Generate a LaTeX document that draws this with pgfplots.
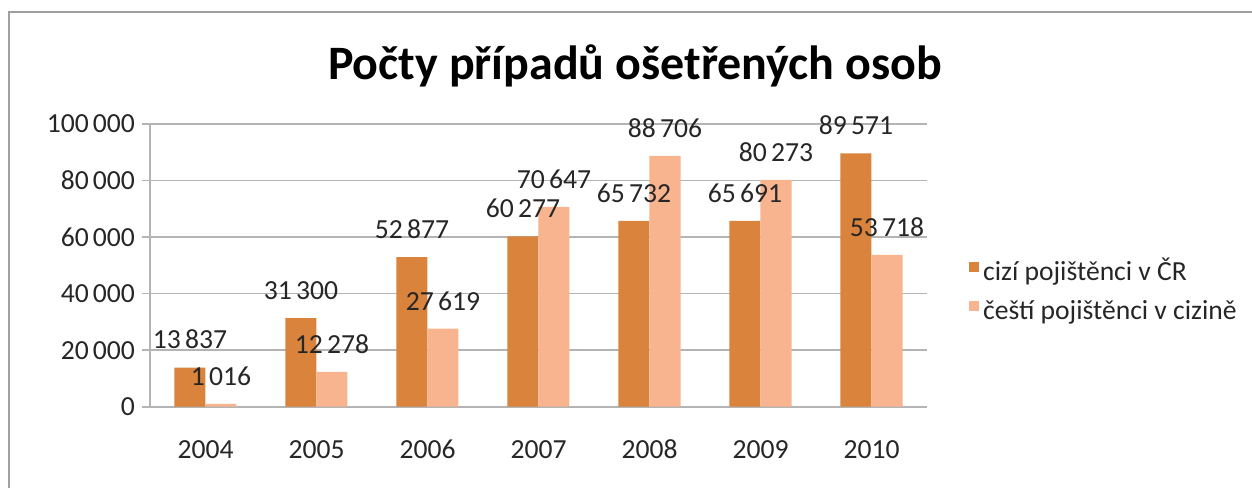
\documentclass[border=0pt]{standalone}
\usepackage{fontspec}
\setmainfont{Carlito}
\usepackage{pgfplots}
\pgfplotsset{compat=1.18}
\definecolor{barA}{HTML}{D9833C}
\definecolor{barB}{HTML}{F8B48F}
\definecolor{gridc}{HTML}{B4B4B4}
\newcommand{\lblfont}{\fontsize{13.8}{16}\selectfont}
\newcommand{\ts}{\kern0.15em}

\begin{document}
\begin{tikzpicture}
\useasboundingbox (-75pt,-40.15pt) rectangle (551pt,203.35pt);
% frame of the chart area (only top and left edges are visible)
\draw[gray!75, line width=1.2pt] (-70.5pt,-42pt) -- (-70.5pt,197.35pt) -- (553pt,197.35pt);
\node[font=\fontsize{24}{28}\selectfont\bfseries, anchor=base] at (242.5pt,163.35pt)
    {Počty případů ošetřených osob};
\begin{axis}[
    at={(0,0)}, anchor=south west,
    scale only axis, width=388.5pt, height=141.35pt,
    ybar=0pt, bar width=15.5pt,
    xmin=-0.5, xmax=6.5, ymin=0, ymax=100000,
    xtick={0,...,6}, xticklabels={2004,2005,2006,2007,2008,2009,2010},
    minor xtick={-0.5,0.5,...,6.5},
    ytick={0,20000,40000,60000,80000,100000},
    yticklabels={0,20\ts000,40\ts000,60\ts000,80\ts000,100\ts000},
    scaled y ticks=false,
    xtick style={draw=none},
    minor tick style={gridc, line width=0.8pt},
    ytick style={gridc, line width=0.8pt},
    major tick length=4pt, minor tick length=4pt,
    tick align=outside,
    ymajorgrids, grid style={gridc, line width=0.8pt},
    axis lines*=left, axis line style={gridc, line width=0.8pt},
    tick label style={font=\lblfont, text=black!85},
    xticklabel style={anchor=north, text height=0.65em, text depth=0pt, yshift=-12pt},
    point meta=explicit symbolic,
    nodes near coords,
    every node near coord/.append style={font=\lblfont, text=black!85, inner sep=0pt, yshift=9pt},
    legend style={at={(1.046,0.40)}, anchor=west, draw=none, fill=none,
        font=\lblfont, text=black!85, row sep=4pt,
        nodes={text height=0.9em, text depth=0.25em}},
    legend cell align=left,
    legend image code/.code={\fill[#1] (0pt,1pt) rectangle (5pt,6pt);},
]
\addplot[fill=barA, draw=none] coordinates
    {(0,13837) [13\ts837] (1,31300) [31\ts300] (2,52877) [52\ts877] (3,60277) [60\ts277]
     (4,65732) [65\ts732] (5,65691) [65\ts691] (6,89571) [89\ts571]};
\addplot[fill=barB, draw=none] coordinates
    {(0,1016) [1\ts016] (1,12278) [12\ts278] (2,27619) [27\ts619] (3,70647) [70\ts647]
     (4,88706) [88\ts706] (5,80273) [80\ts273] (6,53718) [53\ts718]};
\legend{cizí pojištěnci v ČR, čeští pojištěnci v cizině}
\end{axis}
\end{tikzpicture}
\end{document}
